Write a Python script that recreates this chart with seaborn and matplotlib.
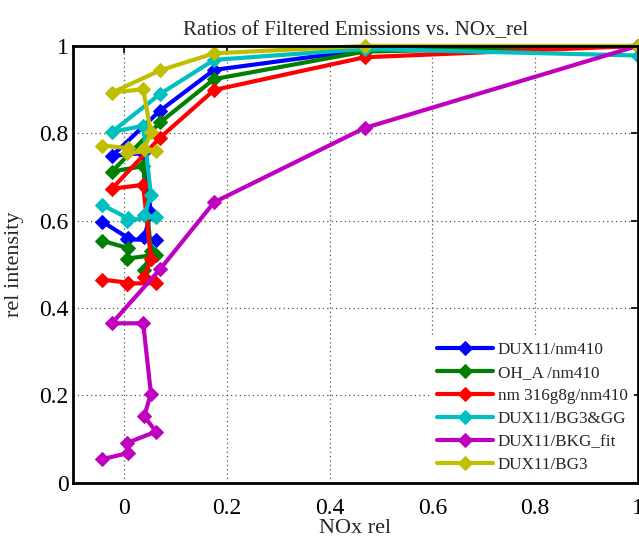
import matplotlib
matplotlib.use("Agg")
import matplotlib.pyplot as plt
import seaborn as sns
import pandas as pd

# NOx_rel sample points (shared by every ratio series, in acquisition order)
nox_rel = [-0.043, 0.008, 0.005, 0.062, 0.039, 0.052, 0.037, -0.024, 0.070, 0.175, 0.468, 1.0]

dux11_nm410 = [0.598, 0.560, 0.557, 0.556, 0.562, 0.618, 0.755, 0.748, 0.852, 0.945, 0.991, 1.0]
oh_a_nm410 = [0.554, 0.537, 0.513, 0.522, 0.488, 0.530, 0.725, 0.712, 0.825, 0.924, 0.987, 1.0]
nm316_nm410 = [0.465, 0.458, 0.456, 0.457, 0.470, 0.512, 0.682, 0.673, 0.790, 0.899, 0.974, 1.0]
dux11_bg3gg = [0.636, 0.605, 0.600, 0.609, 0.612, 0.659, 0.817, 0.803, 0.890, 0.968, 0.993, 0.978]
dux11_bkg_fit = [0.054, 0.068, 0.091, 0.117, 0.152, 0.204, 0.365, 0.365, 0.489, 0.642, 0.812, 1.0]
dux11_bg3 = [0.772, 0.766, 0.755, 0.760, 0.765, 0.802, 0.901, 0.893, 0.944, 0.983, 1.0, 1.0]

series_names = ["DUX11/nm410", "OH_A /nm410", "nm 316g8g/nm410",
                "DUX11/BG3&GG", "DUX11/BKG_fit", "DUX11/BG3"]
series_values = [dux11_nm410, oh_a_nm410, nm316_nm410,
                 dux11_bg3gg, dux11_bkg_fit, dux11_bg3]
series_colors = ["#0000ff", "#008000", "#ff0000", "#00bfbf", "#bf00bf", "#bfbf00"]

xtick_vals = [0, 0.2, 0.4, 0.6, 0.8, 1.0]
xtick_labels = ["0", "0.2", "0.4", "0.6", "0.8", "1"]
ytick_vals = [0, 0.2, 0.4, 0.6, 0.8, 1.0]
ytick_labels = ["0", "0.2", "0.4", "0.6", "0.8", "1"]

rows = []
for name, vals in zip(series_names, series_values):
    for i, (x, y) in enumerate(zip(nox_rel, vals)):
        rows.append({"series": name, "order": i, "NOx": x, "rel": y})
df = pd.DataFrame(rows)

sns.set_style("white")
plt.rcParams["font.family"] = ["Liberation Serif", "DejaVu Serif"]

fig = plt.figure(figsize=(6.39, 5.40), dpi=100)
ax = fig.add_axes([0.114, 0.106, 0.884, 0.809])

for name, color in zip(series_names, series_colors):
    sub = df[df["series"] == name].sort_values("order")
    sns.lineplot(data=sub, x="NOx", y="rel", ax=ax, sort=False, estimator=None,
                 color=color, linewidth=3.0, marker="D", markersize=7,
                 markeredgecolor=color, markerfacecolor=color, label=name,
                 clip_on=False)

ax.set_xlim(-0.1, 1.0)
ax.set_ylim(0, 1.0)
ax.set_xticks(xtick_vals)
ax.set_xticklabels(xtick_labels)
ax.set_yticks(ytick_vals)
ax.set_yticklabels(ytick_labels)
ax.tick_params(axis="both", direction="in", length=5, width=1.2, labelsize=17,
               top=True, right=True, colors="black")
ax.tick_params(axis="x", pad=11)
ax.tick_params(axis="y", pad=3)
ax.grid(True, linestyle=(0, (1, 2.5)), color="#555555", linewidth=0.9)
ax.set_axisbelow(True)
for sp in ax.spines.values():
    sp.set_linewidth(2.0)
    sp.set_color("black")

ax.set_title("Ratios of Filtered Emissions vs. NOx_rel", fontsize=15, pad=8)
ax.set_xlabel("NOx rel", fontsize=16, labelpad=0)
ax.set_ylabel("rel intensity", fontsize=16, labelpad=11)

leg = ax.legend(loc="lower right", fontsize=12.3, frameon=True, handlelength=3.3,
                handletextpad=0.25, labelspacing=0.4, borderaxespad=0.2,
                fancybox=False)
leg.get_frame().set_edgecolor("none")
leg.get_frame().set_facecolor("white")
leg.get_frame().set_alpha(1.0)

fig.savefig("out.png", dpi=100)
